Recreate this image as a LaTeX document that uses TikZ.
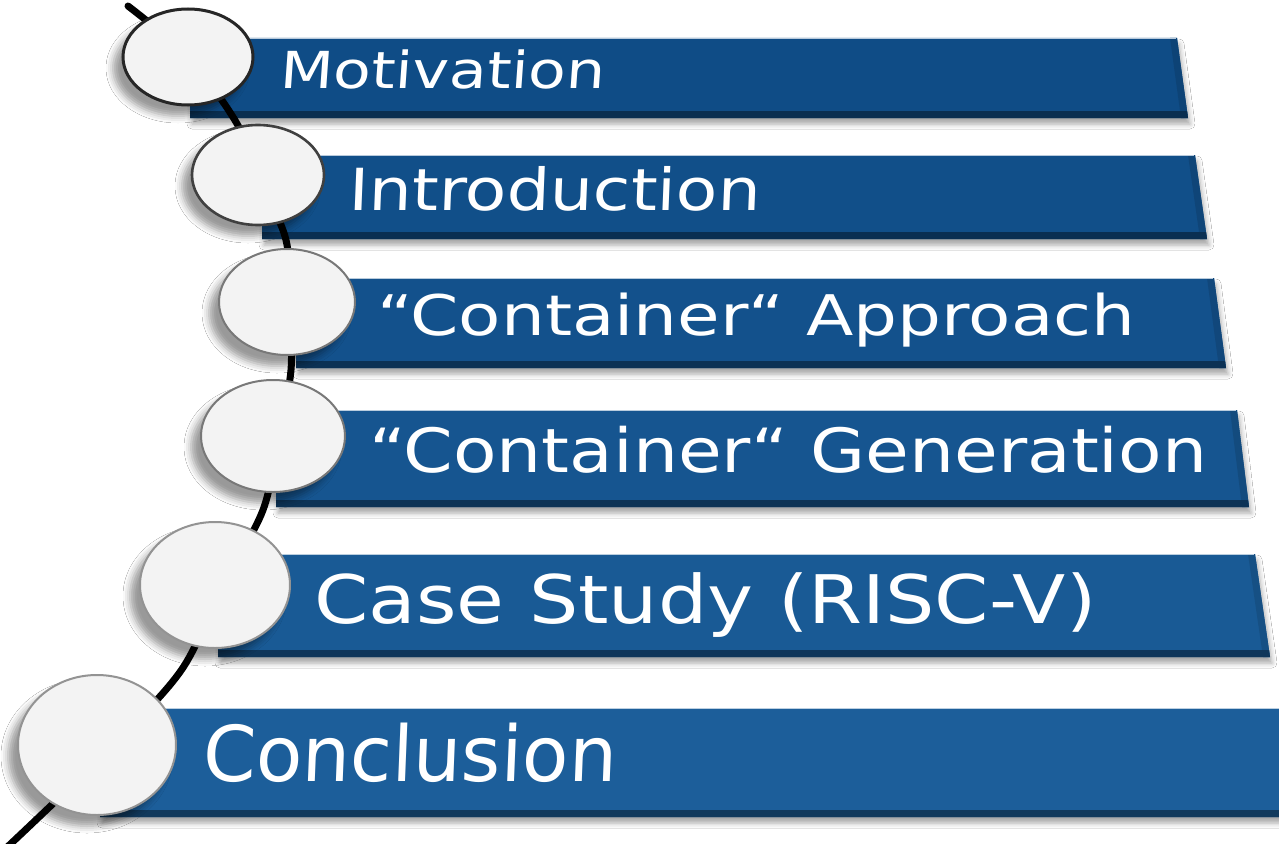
\documentclass[tikz,border=0pt]{standalone}
\usepackage{fontspec}
\usepackage{graphicx}
\setmainfont{DejaVu Sans}
\usetikzlibrary{shapes.geometric,shadows.blur}

\definecolor{barDark}{RGB}{15,76,134}
\definecolor{barLight}{RGB}{34,102,162}
\definecolor{discFill}{RGB}{243,243,243}
\definecolor{rimGray}{RGB}{120,120,120}

\tikzset{
  barbody/.style={fill=#1,
    blur shadow={shadow xshift=2pt, shadow yshift=-6pt, shadow opacity=35, shadow blur radius=5pt}},
  disc/.style={ellipse, draw=#1, fill=discFill, inner sep=0pt,
    blur shadow={shadow xshift=-10pt, shadow yshift=-11pt, shadow opacity=40, shadow blur radius=7pt}},
  itemtext/.style={text=white, inner sep=0pt, anchor=base west},
  track/.style={line width=7pt, black, line cap=round}
}

% #1 left x, #2 top y, #3 bottom y, #4 right x at top, #5 right x at bottom, #6 colour
\newcommand\agendabar[6]{%
  \fill[barbody=#6] (#1,#2) -- (#4,#2) -- (#5,#3) -- (#1,#3) -- cycle;
  \fill[#6!88!black] (#4-7,#2) -- (#4,#2) -- (#5,#3) -- (#5-7,#3) -- cycle;
  \fill[#6!60!black] (#1,#3-7) -- (#5-1,#3-7) -- (#5,#3) -- (#1,#3) -- cycle;
  \draw[white!70!#6, line width=1pt] (#1,#2+0.5) -- (#4-1,#2+0.5);
}

\begin{document}
\begin{tikzpicture}[x=1pt, y=-1pt]
  \useasboundingbox (0,0) rectangle (1279,843);
  \fill[white] (0,0) rectangle (1279,843);

  % bars
  \colorlet{b1}{barDark}
  \colorlet{b2}{barDark!90!barLight}
  \colorlet{b3}{barDark!80!barLight}
  \colorlet{b4}{barDark!65!barLight}
  \colorlet{b5}{barDark!45!barLight}
  \colorlet{b6}{barDark!30!barLight}
  \agendabar{190}{38}{118}{1177}{1188}{b1}
  \agendabar{262}{155}{239}{1195}{1207}{b2}
  \agendabar{296}{278}{368}{1214}{1226}{b3}
  \agendabar{276}{410}{507}{1237}{1249}{b4}
  \agendabar{218}{554}{657}{1255}{1270}{b5}
  \agendabar{100}{708}{817}{1290}{1300}{b6}

  % labels
  \node[itemtext, xslant=0.07, transform shape] (t1) at (279,88)
    {\resizebox{325pt}{\height}{\fontsize{51}{51}\selectfont Motivation}};
  \node[itemtext, xslant=0.04, transform shape] (t2) at (348,210)
    {\resizebox{412pt}{\height}{\fontsize{58}{58}\selectfont Introduction}};
  \node[itemtext] (t3) at (377,335)
    {\resizebox{758pt}{\height}{\fontsize{56}{56}\selectfont “Container“ Approach}};
  \node[itemtext] (t4) at (369,472)
    {\resizebox{838pt}{\height}{\fontsize{61}{61}\selectfont “Container“ Generation}};
  \node[itemtext] (t5) at (314,623)
    {\resizebox{782pt}{\height}{\fontsize{67}{67}\selectfont Case Study (RISC-V)}};
  \node[itemtext, xslant=0.04, transform shape] (t6) at (202,781)
    {\resizebox{414pt}{\height}{\fontsize{77}{77}\selectfont Conclusion}};

  % disc centres and the track through them
  \coordinate (top) at (128,6);
  \coordinate (p1) at (188,57);
  \coordinate (m1) at (236,122);
  \coordinate (p2) at (258,175);
  \coordinate (m2) at (286,240);
  \coordinate (p3) at (289,302);
  \coordinate (m3) at (291,370);
  \coordinate (p4) at (278,436);
  \coordinate (m4) at (263,510);
  \coordinate (p5) at (220,590);
  \coordinate (m5) at (180,672);
  \coordinate (p6) at (100,758);
  \coordinate (bot) at (2,852);
  \draw[track] plot[smooth, tension=0.55] coordinates
    {(top) (p1) (m1) (p2) (m2) (p3) (m3) (p4) (m4) (p5) (m5) (p6) (bot)};

  % discs
  \node[disc=black!85, line width=3pt, minimum width=130pt, minimum height=96pt]  (c1) at (188,57) {};
  \node[disc=black!75, line width=2.6pt, minimum width=132pt, minimum height=100pt] (c2) at (258,175) {};
  \node[disc=rimGray, line width=2pt, minimum width=136pt, minimum height=106pt] (c3) at (287,302) {};
  \node[disc=rimGray, line width=2pt, minimum width=144pt, minimum height=112pt] (c4) at (273,436) {};
  \node[disc=rimGray!80, line width=2pt, minimum width=150pt, minimum height=126pt] (c5) at (215,585) {};
  \node[disc=rimGray!80, line width=2pt, minimum width=158pt, minimum height=140pt] (c6) at (97,745) {};
\end{tikzpicture}
\end{document}
